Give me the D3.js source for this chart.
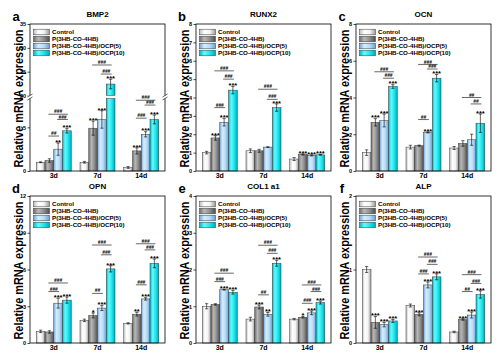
<!DOCTYPE html>
<html><head><meta charset="utf-8">
<script src="https://cdn.jsdelivr.net/npm/d3@7"></script>
<style>body{margin:0;background:#fff;} svg{display:block;font-family:"Liberation Sans",Arial,sans-serif;}</style>
</head><body><svg id="c" width="498" height="360"></svg>
<script>
const days = ["3d","7d","14d"];
const groups = ["Control","P(3HB-CO-4HB)","P(3HB-CO-4HB)/OCP(5)","P(3HB-CO-4HB)/OCP(10)"];
const titles = ["BMP2","RUNX2","OCN","OPN","COL1 a1","ALP"];
const letters = ["a","b","c","d","e","f"];
const yMax = [35, 8, 8, 12, 4, 2];
const yTicks = [[0,5,20,25,30,35],[0,1,2,3,4,5,6,7,8],[0,2,4,6,8],[0,3,6,9,12],[0,1,2,3,4],[0,1,2]];

// values [day][group]
const bmp2  = [[1.0,1.2,2.5,4.6],[1.0,4.9,5.9,22.4],[0.4,2.3,4.2,5.9]];
const runx2 = [[1.0,1.8,2.65,4.4],[1.1,1.1,1.3,3.45],[0.65,0.9,0.85,0.88]];
const ocn   = [[1.0,2.65,2.75,4.6],[1.3,1.38,2.1,5.05],[1.25,1.5,1.7,2.6]];
const opn   = [[0.95,0.9,3.25,3.5],[1.85,2.25,2.85,6.05],[1.6,2.35,3.6,6.5]];
const col1  = [[1.0,1.05,1.45,1.38],[0.65,0.98,0.78,2.17],[0.65,0.7,0.82,1.1]];
const alp   = [[1.0,0.28,0.25,0.3],[0.51,0.39,0.79,0.9],[0.15,0.32,0.38,0.66]];

const bmp2Err  = [[0.05,0.2,0.7,0.25],[0.1,0.8,1.0,1.0],[0.1,0.35,0.3,0.5]];
const runx2Err = [[0.07,0.12,0.2,0.2],[0.1,0.08,0.02,0.2],[0.08,0.03,0.03,0.02]];
const ocnErr   = [[0.15,0.2,0.35,0.1],[0.1,0.03,0.03,0.2],[0.08,0.15,0.3,0.5]];
const opnErr   = [[0.1,0.1,0.4,0.25],[0.1,0.2,0.2,0.25],[0.05,0.15,0.1,0.35]];
const col1Err  = [[0.07,0.02,0.01,0.05],[0.05,0.05,0.05,0.08],[0.02,0.02,0.05,0.04]];
const alpErr   = [[0.04,0.08,0.03,0.02],[0.02,0.02,0.04,0.04],[0.01,0.01,0.04,0.05]];

const bmp2Stars  = [["","","**","***"],["","***","***","***"],["","***","***","***"]];
const runx2Stars = [["","***","***","***"],["","","","***"],["","***","***","***"]];
const ocnStars   = [["","***","***","***"],["","","***","***"],["","","","***"]];
const opnStars   = [["","","***","***"],["","*","***","***"],["","**","***","***"]];
const col1Stars  = [["","","***","***"],["","***","**","***"],["","*","***","***"]];
const alpStars   = [["","***","***","***"],["","***","***","***"],["","***","***","***"]];

// [day, fromGroup, toGroup, label, level]
const bmp2Sig  = [[0,1,3,"###",6.5],[0,2,3,"###",5.9],[0,1,2,"##",4.0],[1,1,3,"###",26.4],[1,2,3,"###",24.5],[2,1,3,"###",8.1],[2,2,3,"###",7.55],[2,1,2,"###",6.05]];
const runx2Sig = [[0,1,3,"###",5.45],[0,2,3,"###",5.0],[0,1,2,"###",3.45],[1,1,3,"###",4.45],[1,2,3,"###",3.9]];
const ocnSig   = [[0,1,3,"###",5.4],[0,2,3,"###",5.05],[1,1,3,"###",5.8],[1,2,3,"###",5.55],[1,1,2,"##",2.8],[2,1,3,"##",4.0],[2,2,3,"##",3.65]];
const opnSig   = [[0,1,3,"###",4.9],[0,1,2,"###",4.2],[1,1,3,"###",8.0],[1,2,3,"###",7.2],[1,1,2,"##",4.05],[2,1,3,"###",8.1],[2,2,3,"###",7.6],[2,1,2,"###",4.75]];
const col1Sig  = [[0,1,3,"###",1.9],[0,1,2,"###",1.67],[1,1,3,"###",2.66],[1,2,3,"###",2.44],[1,1,2,"##",1.31],[2,1,3,"###",1.58],[2,2,3,"###",1.4],[2,1,2,"###",1.08]];
const alpSig   = [[1,1,3,"###",1.17],[1,2,3,"###",1.07],[1,1,2,"###",0.94],[2,1,3,"###",0.93],[2,2,3,"###",0.81],[2,1,2,"##",0.7]];

const panels = [
  {v:bmp2,e:bmp2Err,s:bmp2Stars,g:bmp2Sig},
  {v:runx2,e:runx2Err,s:runx2Stars,g:runx2Sig},
  {v:ocn,e:ocnErr,s:ocnStars,g:ocnSig},
  {v:opn,e:opnErr,s:opnStars,g:opnSig},
  {v:col1,e:col1Err,s:col1Stars,g:col1Sig},
  {v:alp,e:alpErr,s:alpStars,g:alpSig}
];

const svg = d3.select("#c");
const defs = svg.append("defs");
const grad = [
  ["#bdbdbd","#ffffff","#f4f4f4","#9a9a9a"],
  ["#6e6e6e","#b8b8b8","#8c8c8c","#4e4e4e"],
  ["#6fa6dc","#d6ecfc","#b4dcf8","#6d9fd0"],
  ["#00b6c6","#5ffcff","#1fe6ec","#00a9b8"]
];
grad.forEach((c,i)=>{
  const lg = defs.append("linearGradient").attr("id","g"+i).attr("x1","0").attr("x2","1").attr("y1","0").attr("y2","0");
  [[0,c[0]],[0.3,c[1]],[0.65,c[2]],[1,c[3]]].forEach(([o,col])=>lg.append("stop").attr("offset",o).attr("stop-color",col));
});

const frames = [[30,24],[196,24],[356,24],[30,196],[196,196],[356,196]];
const PW = 135, PH = 147;

panels.forEach((P, p) => {
  const [x0, top] = frames[p];
  const bottom = top + PH;
  const g = svg.append("g");
  const x = d3.scaleBand().domain(days).range([x0, x0+PW]).paddingInner(0.2).paddingOuter(0.143);
  const xs = d3.scaleBand().domain(d3.range(4)).range([0, x.bandwidth()]);
  let y, lo, hi;
  const broken = p === 0;
  if (broken) {
    lo = d3.scaleLinear().domain([0, 8.3]).range([bottom, top + 74.5]);
    hi = d3.scaleLinear().domain([20, yMax[p]]).range([top + 71.5, top]);
    y = v => v <= 8.3 ? lo(v) : (v >= 20 ? hi(v) : lo(8.3));
  } else {
    y = d3.scaleLinear().domain([0, yMax[p]]).range([bottom, top]);
  }

  // axes
  const tickFmt = d => d;
  const mkAxis = (sc, vals) => {
    const a = g.append("g").attr("transform", `translate(${x0},0)`)
      .call(d3.axisLeft(sc).tickValues(vals).tickSize(2.5).tickPadding(1.5).tickFormat(tickFmt));
    a.select(".domain").remove();
    a.selectAll("text").attr("font-size", 5.5).attr("font-weight", "bold").attr("fill", "#000");
    a.selectAll("line").attr("stroke", "#000").attr("stroke-width", 0.7);
  };
  if (broken) { mkAxis(lo, yTicks[p].filter(t => t < 10)); mkAxis(hi, yTicks[p].filter(t => t >= 20)); }
  else mkAxis(y, yTicks[p]);

  // bars
  P.v.forEach((row, di) => {
    row.forEach((v, gi) => {
      const bx = x(days[di]) + xs(gi), bw = xs.bandwidth();
      const segs = (broken && v > 20) ? [[0, 8.3], [20, v]] : [[0, v]];
      segs.forEach(([a, b]) => {
        g.append("rect").attr("x", bx).attr("width", bw)
          .attr("y", y(b)).attr("height", y(a) - y(b))
          .attr("fill", `url(#g${gi})`).attr("stroke", "#3a3a3a").attr("stroke-width", 0.5);
      });
      const e = P.e[di][gi], cx = bx + bw/2;
      const yt = y(v + e), yb = y(Math.max(0, v - e));
      g.append("line").attr("x1", cx).attr("x2", cx).attr("y1", yt).attr("y2", yb).attr("stroke", "#000").attr("stroke-width", 0.6);
      [yt, yb].forEach(yy => g.append("line").attr("x1", cx-1.6).attr("x2", cx+1.6).attr("y1", yy).attr("y2", yy).attr("stroke", "#000").attr("stroke-width", 0.6));
      const st = P.s[di][gi];
      if (st) g.append("text").attr("x", cx).attr("y", yt + 1.8).attr("text-anchor", "middle")
        .attr("font-size", 7.5).attr("font-weight", "bold").text(st);
    });
  });

  // significance brackets
  P.g.forEach(([di, a, b, lab, lev]) => {
    const xa = x(days[di]) + xs(a) + xs.bandwidth()/2 - 1;
    const xb = x(days[di]) + xs(b) + xs.bandwidth()/2 + 1;
    const yy = y(lev);
    g.append("line").attr("x1", xa).attr("x2", xb).attr("y1", yy).attr("y2", yy).attr("stroke", "#000").attr("stroke-width", 0.6);
    g.append("text").attr("x", (xa+xb)/2).attr("y", yy - 0.9).attr("text-anchor", "middle")
      .attr("font-size", 4.8).attr("font-style", "italic").attr("font-weight", "bold").text(lab);
  });

  // frame
  g.append("rect").attr("x", x0).attr("y", top).attr("width", PW).attr("height", PH)
    .attr("fill", "none").attr("stroke", "#000").attr("stroke-width", 0.8);
  if (broken) {
    const yB = top + 73;
    [x0, x0 + PW].forEach(xx => {
      g.append("rect").attr("x", xx - 2).attr("y", yB - 1.5).attr("width", 4).attr("height", 3).attr("fill", "#fff");
      [-1.5, 1.5].forEach(d => g.append("line").attr("x1", xx - 2.5).attr("x2", xx + 2.5)
        .attr("y1", yB + d + 1.5).attr("y2", yB + d - 1.5).attr("stroke", "#000").attr("stroke-width", 0.6));
    });
  }

  // category labels
  days.forEach(d => g.append("text").attr("x", x(d) + x.bandwidth()/2).attr("y", bottom + 7)
    .attr("text-anchor", "middle").attr("font-size", 7).attr("font-weight", "bold").text(d));

  // legend
  groups.forEach((name, gi) => {
    const ly = top + 8 + gi * 7;
    g.append("rect").attr("x", x0 + 3.5).attr("y", ly - 2.8).attr("width", 16).attr("height", 5.6)
      .attr("fill", `url(#g${gi})`).attr("stroke", "#3a3a3a").attr("stroke-width", 0.5);
    g.append("text").attr("x", x0 + 22).attr("y", ly + 2.1).attr("font-size", 6.2).attr("font-weight", "bold").text(name);
  });

  // title, y label, letter
  g.append("text").attr("x", x0 + PW/2).attr("y", top - 7.5).attr("text-anchor", "middle")
    .attr("font-size", 8).attr("font-weight", "bold").text(titles[p]);
  const lx = x0 - 12, lyc = top + PH/2 + 1;
  g.append("text").attr("transform", `translate(${lx},${lyc}) rotate(-90)`).attr("text-anchor", "middle")
    .attr("dominant-baseline", "central").attr("font-size", 13).attr("font-weight", "bold")
    .attr("textLength", 138).attr("lengthAdjust", "spacingAndGlyphs").text("Relative mRNA expression");
  g.append("text").attr("x", lx - 2).attr("y", top - 3).attr("text-anchor", "middle")
    .attr("font-size", 13).attr("font-weight", "bold").text(letters[p]);
});
</script></body></html>
